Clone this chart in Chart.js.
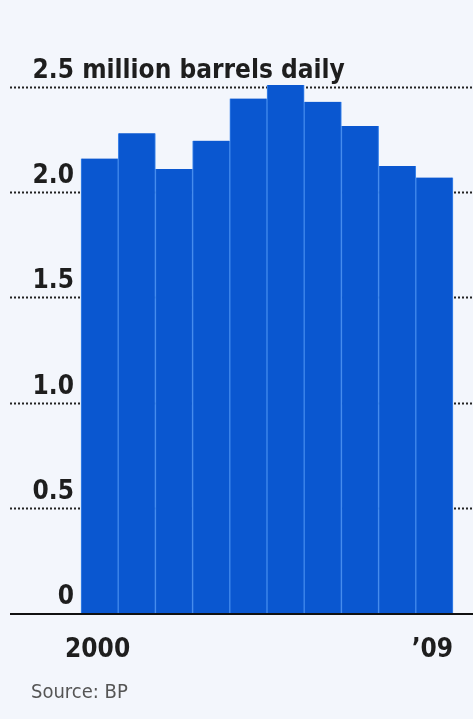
<!DOCTYPE html>
<html>
<head>
<meta charset="utf-8">
<script src="https://cdn.jsdelivr.net/npm/chart.js@4"></script>
<style>
  html, body { margin: 0; padding: 0; background: #f3f6fc; }
  #wrap { width: 473px; height: 719px; position: relative; }
</style>
</head>
<body>
<div id="wrap"><canvas id="graficoBarris"></canvas></div>
<script>
// dados
const anos = ['2000', '2001', '2002', '2003', '2004', '2005', '2006', '2007', '2008', '2009'];
const barrisDia = [2.16, 2.28, 2.11, 2.245, 2.445, 2.51, 2.43, 2.315, 2.125, 2.07];
const rotulosX = ['2000', '', '', '', '', '', '', '', '', '\u201909'];
const valoresY = [0, 0.5, 1.0, 1.5, 2.0, 2.5];
const rotulosY = ['0', '0.5', '1.0', '1.5', '2.0', '2.5 million barrels daily'];
const fonte = 'Source: BP';

const fonteTexto = '"Liberation Sans Narrow", "DejaVu Sans Condensed", "Liberation Sans", sans-serif';

// grade pontilhada, rótulos e linha de base desenhados a partir das escalas
const pluginEixos = {
    id: 'eixos',
    beforeDatasetsDraw(chart) {
        const ctx = chart.ctx;
        const y = chart.scales.y;
        ctx.save();
        ctx.strokeStyle = '#222';
        ctx.lineWidth = 2;
        ctx.setLineDash([2, 2]);
        for (let i = 1; i < valoresY.length; i++) {
            const py = Math.round(y.getPixelForValue(valoresY[i])) + 0.5;
            ctx.beginPath();
            ctx.moveTo(10, py);
            ctx.lineTo(chart.width, py);
            ctx.stroke();
        }
        ctx.restore();
    },
    afterDatasetsDraw(chart) {
        const ctx = chart.ctx;
        const x = chart.scales.x;
        const y = chart.scales.y;
        ctx.save();
        // linha de base
        const base = y.getPixelForValue(0);
        ctx.strokeStyle = '#111';
        ctx.lineWidth = 2;
        ctx.beginPath();
        ctx.moveTo(10, base + 1);
        ctx.lineTo(chart.width, base + 1);
        ctx.stroke();

        // rótulos do eixo y
        ctx.fillStyle = '#1e1e1e';
        ctx.font = 'bold 26px ' + fonteTexto;
        ctx.textBaseline = 'alphabetic';
        for (let i = 0; i < valoresY.length; i++) {
            const py = y.getPixelForValue(valoresY[i]) - 9;
            const txt = rotulosY[i];
            const num = txt.split(' ')[0];
            const w = ctx.measureText(num).width;
            ctx.textAlign = 'left';
            ctx.fillText(txt, 74 - w, py);
        }

        // rótulos do eixo x
        ctx.textAlign = 'center';
        ctx.textBaseline = 'top';
        for (let i = 0; i < rotulosX.length; i++) {
            if (rotulosX[i] === '') continue;
            ctx.fillText(rotulosX[i], x.getPixelForValue(i) - 2, base + 24);
        }

        // fonte
        ctx.fillStyle = '#555';
        ctx.font = '20px ' + fonteTexto;
        ctx.textAlign = 'left';
        ctx.fillText(fonte, 31, base + 70);
        ctx.restore();
    }
};

const configBarris = {
    type: 'bar',
    data: {
        labels: anos,
        datasets: [{
            data: barrisDia,
            backgroundColor: '#0a57d0',
            borderColor: '#4189ec',
            borderWidth: { left: 1, right: 1, top: 0, bottom: 0 },
            borderSkipped: false,
            barPercentage: 1,
            categoryPercentage: 1,
            clip: false
        }]
    },
    options: {
        responsive: true,
        maintainAspectRatio: false,
        animation: false,
        layout: { padding: { left: 81, right: 20, top: 87, bottom: 106 } },
        plugins: { legend: { display: false }, tooltip: { enabled: false } },
        scales: {
            x: { display: false },
            y: { display: false, min: 0, max: 2.5 }
        }
    },
    plugins: [pluginEixos]
};

let graficoBarris = new Chart(document.getElementById('graficoBarris'), configBarris);
</script>
</body>
</html>
